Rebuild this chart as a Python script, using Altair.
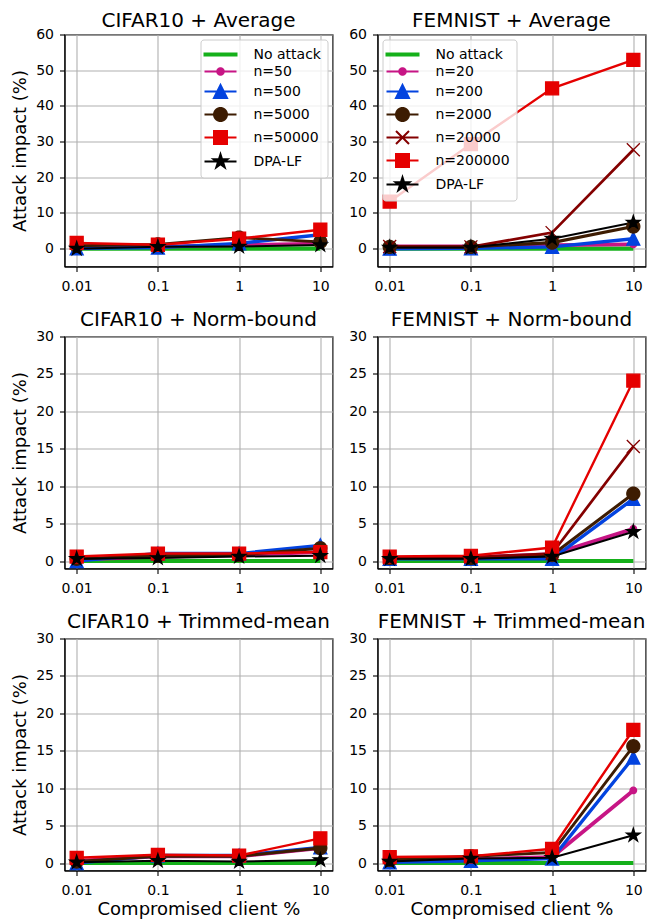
import math
import altair as alt
import pandas as pd

# ---------------- data ----------------
pct = [0.01, 0.1, 1, 10]

cifar_names = ["No attack", "n=50", "n=500", "n=5000", "n=50000", "DPA-LF"]
femnist_names = ["No attack", "n=20", "n=200", "n=2000", "n=20000", "n=200000", "DPA-LF"]
femnist_tm_names = ["No attack", "n=20", "n=200", "n=2000", "n=200000", "DPA-LF"]

# CIFAR10 + Average
cifar_avg = {
    "No attack": [0, 0, 0, 0],
    "n=50": [0.4, 0.6, 1.0, 1.4],
    "n=500": [0.1, 0.3, 1.5, 3.9],
    "n=5000": [0.8, 1.2, 3.1, 1.9],
    "n=50000": [1.6, 1.1, 2.8, 5.3],
    "DPA-LF": [0.0, 0.5, 0.6, 1.0],
}
# CIFAR10 + Norm-bound
cifar_nb = {
    "No attack": [0, 0, 0, 0],
    "n=50": [0.2, 0.6, 0.8, 1.2],
    "n=500": [0.0, 1.0, 1.0, 2.1],
    "n=5000": [0.3, 0.7, 0.8, 1.7],
    "n=50000": [0.6, 1.0, 1.0, 1.2],
    "DPA-LF": [0.3, 0.4, 0.6, 0.7],
}
# CIFAR10 + Trimmed-mean
cifar_tm = {
    "No attack": [0, 0, 0, 0],
    "n=50": [0.3, 0.9, 0.9, 2.0],
    "n=500": [0.0, 1.0, 1.0, 2.1],
    "n=5000": [0.2, 0.9, 0.9, 2.0],
    "n=50000": [0.7, 1.1, 1.0, 3.3],
    "DPA-LF": [0.1, 0.3, 0.2, 0.4],
}
# FEMNIST + Average
femnist_avg = {
    "No attack": [0, 0, 0, 0],
    "n=20": [0.6, 0.6, 1.0, 1.2],
    "n=200": [0.0, 0.1, 0.5, 2.8],
    "n=2000": [0.5, 0.5, 1.7, 6.2],
    "n=20000": [0.6, 0.5, 4.5, 27.7],
    "n=200000": [13.2, 29.3, 44.9, 52.9],
    "DPA-LF": [0.3, 0.3, 2.8, 7.3],
}
# FEMNIST + Norm-bound
femnist_nb = {
    "No attack": [0, 0, 0, 0],
    "n=20": [0.4, 0.5, 0.9, 4.3],
    "n=200": [0.3, 0.3, 0.3, 8.3],
    "n=2000": [0.4, 0.4, 0.8, 9.0],
    "n=20000": [0.4, 0.5, 1.0, 15.3],
    "n=200000": [0.6, 0.7, 1.8, 24.1],
    "DPA-LF": [0.3, 0.3, 0.6, 3.9],
}
# FEMNIST + Trimmed-mean
femnist_tm = {
    "No attack": [0, 0, 0, 0],
    "n=20": [0.3, 0.5, 0.8, 9.7],
    "n=200": [0.1, 0.3, 0.6, 14.1],
    "n=2000": [0.4, 0.9, 1.4, 15.6],
    "n=200000": [0.8, 0.9, 1.9, 17.8],
    "DPA-LF": [0.2, 0.6, 0.7, 3.7],
}

y_ticks_top = [0, 10, 20, 30, 40, 50, 60]
y_ticks_low = [0, 5, 10, 15, 20, 25, 30]
x_ticks = [0.01, 0.1, 1, 10]

# ---------------- styles ----------------
GREEN, PINK, BLUE, BROWN, DARKRED, RED, BLACK = (
    "#15b01a", "#c71585", "#0343df", "#3d1c02", "#840000", "#e50000", "#000000")

role_color = {"none": GREEN, "s1": PINK, "s2": BLUE, "s3": BROWN, "s4": DARKRED, "s5": RED, "dpa": BLACK}


def poly_circle(r, n=36):
    pts = [(r * math.cos(2 * math.pi * i / n), r * math.sin(2 * math.pi * i / n)) for i in range(n)]
    return "M" + "L".join(f"{x:.4f},{y:.4f}" for x, y in pts) + "Z"


def star(R, ratio=0.381966):
    pts = []
    for i in range(10):
        a = -math.pi / 2 + i * math.pi / 5
        rr = R if i % 2 == 0 else R * ratio
        pts.append((rr * math.cos(a), rr * math.sin(a)))
    return "M" + "L".join(f"{x:.4f},{y:.4f}" for x, y in pts) + "Z"


def marker(role, s):
    if role == "none":
        return "M0,0"
    if role == "s1":
        return poly_circle(0.5 * s)
    if role == "s2":
        return f"M0,{-s:.4f}L{-s:.4f},{s:.4f}L{s:.4f},{s:.4f}Z"
    if role == "s3":
        return poly_circle(s)
    if role == "s4":
        return f"M{-s:.4f},{-s:.4f}L{s:.4f},{s:.4f}M{-s:.4f},{s:.4f}L{s:.4f},{-s:.4f}"
    if role == "s5":
        return f"M{-s:.4f},{-s:.4f}H{s:.4f}V{s:.4f}H{-s:.4f}Z"
    return star(1.1 * s)


def legend_symbol(role):
    s = 0.8125
    if role == "none":
        return "M-2,-0.14H2V0.14H-2Z"
    return "M-2,0H2" + marker(role, s)


cifar_roles = ["none", "s1", "s2", "s3", "s5", "dpa"]
femnist_roles = ["none", "s1", "s2", "s3", "s4", "s5", "dpa"]
femnist_tm_roles = ["none", "s1", "s2", "s3", "s5", "dpa"]

FONT = "DejaVu Sans"
XMIN, XMAX = 10 ** -2.15, 10 ** 1.15
W, H = 268, 232


def make_df(data, names):
    rows = []
    for k, name in enumerate(names):
        for p, v in zip(pct, data[name]):
            rows.append({"pct": p, "value": v, "series": name, "k": k})
    return pd.DataFrame(rows)


def panel(data, names, roles, title, ydom, yvals, ytitle, xtitle, legend_orient, title_offset):
    df = make_df(data, names)
    colors = [role_color[r] for r in roles]
    widths = [4.2 if r == "none" else 2 for r in roles]
    shapes = [marker(r, 1.0) for r in roles]
    base = alt.Chart(df)
    x = alt.X("pct:Q", scale=alt.Scale(type="log", domain=[XMIN, XMAX], nice=False),
              axis=alt.Axis(values=x_ticks, format="~g", labelPadding=7.5,
                            title="Compromised client %" if xtitle else None))
    y = alt.Y("value:Q", scale=alt.Scale(domain=ydom, nice=False, zero=False),
              axis=alt.Axis(values=yvals, title="Attack impact (%)" if ytitle else None))
    lines = base.mark_line().encode(
        x=x, y=y,
        color=alt.Color("series:N", scale=alt.Scale(domain=names, range=colors), legend=None),
        strokeWidth=alt.StrokeWidth("series:N", scale=alt.Scale(domain=names, range=widths), legend=None),
    )
    points = base.transform_filter(alt.datum.series != "No attack").mark_point(
        size=169, opacity=1, strokeWidth=1.3).encode(
        x=x, y=y,
        fill=alt.Fill("series:N", scale=alt.Scale(domain=names, range=colors), legend=None),
        stroke=alt.Stroke("series:N", scale=alt.Scale(domain=names, range=colors), legend=None),
        shape=alt.Shape("series:N", scale=alt.Scale(domain=names, range=shapes), legend=None),
        order=alt.Order("k:Q"),
    )
    layers = [lines, points]
    if legend_orient:
        leg = alt.Legend(title=None, orient=legend_orient, offset=5, padding=6,
                         fillColor="rgba(255,255,255,0.8)", strokeColor="#cccccc",
                         cornerRadius=3, labelFontSize=14, labelFont=FONT, labelColor="black",
                         symbolSize=256, symbolStrokeWidth=2, symbolOffset=5, labelOffset=24,
                         rowPadding=1, symbolOpacity=1)
        leg_shapes = [legend_symbol(r) for r in roles]
        legend_layer = base.transform_filter("false").mark_point(opacity=1).encode(
            x=x, y=y,
            fill=alt.Fill("series:N", scale=alt.Scale(domain=names, range=colors), legend=leg),
            stroke=alt.Stroke("series:N", scale=alt.Scale(domain=names, range=colors), legend=leg),
            shape=alt.Shape("series:N", scale=alt.Scale(domain=names, range=leg_shapes), legend=leg),
        )
        layers.append(legend_layer)
    ch = alt.layer(*layers).resolve_scale(
        color="independent", fill="independent", stroke="independent",
        shape="independent", strokeWidth="independent",
    ).properties(
        width=W, height=H,
        title=alt.TitleParams(title, fontSize=20, font=FONT, fontWeight="normal",
                              anchor="middle", frame="group", baseline="alphabetic",
                              offset=title_offset, color="black"),
    )
    return ch


p1 = panel(cifar_avg, cifar_names, cifar_roles, "CIFAR10 + Average", [-5, 60], y_ticks_top, True, False, "top-right", -19.2)
p2 = panel(femnist_avg, femnist_names, femnist_roles, "FEMNIST + Average", [-5, 60], y_ticks_top, False, False, "top-left", -19.2)
p3 = panel(cifar_nb, cifar_names, cifar_roles, "CIFAR10 + Norm-bound", [-1, 30], y_ticks_low, True, False, None, -16.2)
p4 = panel(femnist_nb, femnist_names, femnist_roles, "FEMNIST + Norm-bound", [-1, 30], y_ticks_low, False, False, None, -16.2)
p5 = panel(cifar_tm, cifar_names, cifar_roles, "CIFAR10 + Trimmed-mean", [-1, 30], y_ticks_low, True, True, None, -16.5)
p6 = panel(femnist_tm, femnist_tm_names, femnist_tm_roles, "FEMNIST + Trimmed-mean", [-1, 30], y_ticks_low, False, True, None, -16.5)

chart = alt.concat(p1, p2, p3, p4, p5, p6, columns=2,
                   spacing={"row": 70, "column": 45}, bounds="flush").properties(
    padding={"left": 2.5, "top": 1.5, "right": 0, "bottom": 0},
).configure(
    font=FONT, background="white",
).configure_view(
    stroke="black", strokeWidth=1.1,
).configure_axis(
    labelFont=FONT, labelFontSize=14, labelColor="black",
    tickColor="black", tickSize=5, tickWidth=1.1,
    domainColor="black", domainWidth=1.1,
    grid=True, gridColor="#b0b0b0", gridWidth=1.1,
    titleFont=FONT, titleFontSize=18, titleFontWeight="normal", titleColor="black",
    labelPadding=6,
).configure_axisY(titlePadding=6).configure_axisX(titlePadding=3)

chart.save("out.html", embed_options={"renderer": "svg", "actions": False})
